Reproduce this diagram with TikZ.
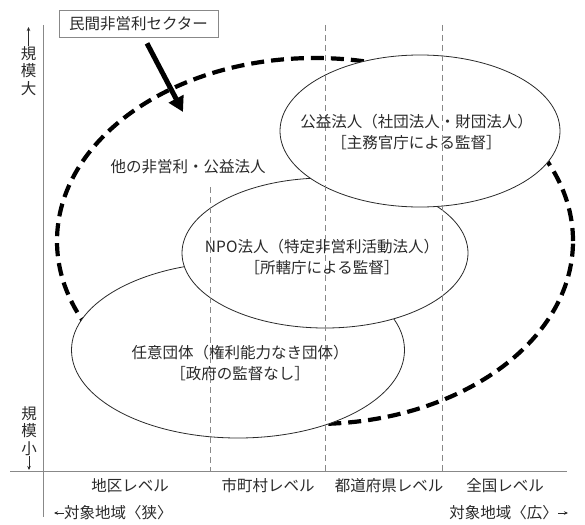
\documentclass[tikz,border=0pt]{standalone}
\usepackage{fontspec}
\setmainfont{Noto Sans CJK JP}
\usetikzlibrary{shapes.geometric,arrows.meta}
\definecolor{ink}{HTML}{2A2A2A}
\definecolor{rule}{HTML}{888888}
\begin{document}
\begin{tikzpicture}[x=1pt,y=-1pt,
  lbl/.style={font=\fontsize{15.5}{21}\selectfont, text=ink, inner sep=0pt, align=center},
  vlbl/.style={font=\fontsize{15.5}{17.5}\selectfont, text=ink, inner sep=0pt, align=center},
  oval/.style={ellipse, draw=ink, line width=0.8pt, fill=white, inner sep=0pt},
  sectoroval/.style={ellipse, draw=black, line width=4.2pt, dash pattern=on 13pt off 7pt, inner sep=0pt},
  levelline/.style={draw=rule, dash pattern=on 6pt off 4pt, line width=0.7pt},
  axisline/.style={draw=rule, line width=0.8pt},
  smallarrow/.style={draw=ink, line width=0.7pt, -{Stealth[length=4pt,width=3.5pt]}},
]
\useasboundingbox (0,0) rectangle (585,524);

% big dashed sector outline
\node[sectoroval, minimum width=516pt, minimum height=366pt] (sector) at (315,241) {};

% ellipses (filled, stacked)
\node[oval, minimum width=333pt, minimum height=176pt] (nini) at (238,350) {};
\node[oval, minimum width=286pt, minimum height=150pt] (npo) at (325,253) {};
\node[oval, minimum width=280pt, minimum height=152pt] (koeki) at (420,131) {};

% axes
\coordinate (xl) at (10,471);
\coordinate (xr) at (567,471);
\coordinate (yt) at (43,25);
\coordinate (yb) at (43,517);
\draw[axisline] (xl) -- (xr);
\draw[axisline] (yt) -- (yb);

% level separators
\coordinate (d1t) at (210,187); \coordinate (d1b) at (210,471);
\coordinate (d2t) at (325,25);  \coordinate (d2b) at (325,471);
\coordinate (d3t) at (442,25);  \coordinate (d3b) at (442,471);
\draw[levelline] (d1t) -- (d1b);
\draw[levelline] (d2t) -- (d2b);
\draw[levelline] (d3t) -- (d3b);

% texts in ellipses
\node[lbl] (koekitext) at (416.5,132.5) {公益法人（社団法人・財団法人）\\［主務官庁による監督］};
\node[lbl] (npotext) at (322,257.5) {NPO法人（特定非営利活動法人）\\［所轄庁による監督］};
\node[lbl] (ninitext) at (240,363.5) {任意団体（権利能力なき団体）\\［政府の監督なし］};
\node[lbl] (other) at (188,167) {他の非営利・公益法人};

% sector box and arrow
\node[lbl, draw=rule, line width=0.7pt, minimum width=159pt, minimum height=27pt] (box) at (138.5,23.5) {民間非営利セクター};
\coordinate (arrowtip) at (183,112);
\draw[line width=5pt, -{Triangle[length=15pt,width=16pt]}] ([xshift=8.5pt,yshift=-6pt]box.south) -- (arrowtip);

% level labels
\node[lbl] (l1) at (130,486) {地区レベル};
\node[lbl] (l2) at (268,486) {市町村レベル};
\node[lbl] (l3) at (389,486) {都道府県レベル};
\node[lbl] (l4) at (505,486) {全国レベル};

% bottom axis labels
\node[lbl, anchor=west] (narrow) at (64,513) {対象地域〈狭〉};
\coordinate (narrowend) at (54,513);
\draw[smallarrow] (narrow.west) -- (narrowend);
\node[lbl, anchor=east] (wide) at (558,513) {対象地域〈広〉};
\coordinate (wideend) at (568,513);
\draw[smallarrow] (wide.east) -- (wideend);

% vertical axis labels
\node[vlbl] (big) at (28.5,71) {規\\模\\大};
\coordinate (bigend) at (28.5,27);
\draw[smallarrow] (big.north) -- (bigend);
\node[vlbl] (small) at (29,431) {規\\模\\小};
\coordinate (smallend) at (29,470);
\draw[smallarrow] (small.south) -- (smallend);
\end{tikzpicture}
\end{document}
